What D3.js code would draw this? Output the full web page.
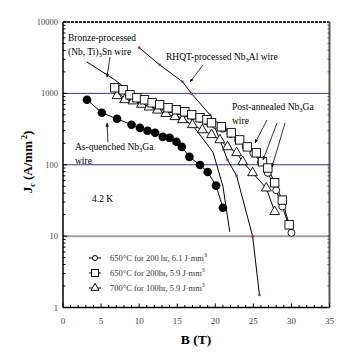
<!DOCTYPE html>
<html><head><meta charset="utf-8">
<script src="https://cdn.jsdelivr.net/npm/d3@7/dist/d3.min.js"></script>
<style>body{margin:0;background:#fff}svg{display:block}</style>
</head><body><svg id="c" width="356" height="353" font-family="'Liberation Serif', 'Times New Roman', Times, 'DejaVu Serif', serif" style="font-family:'Liberation Serif','Times New Roman',Times,'DejaVu Serif',serif"></svg>
<script>
// ---- data ----
const xTicks = [0,5,10,15,20,25,30,35];
const yTicks = [1,10,100,1000,10000];
const bronzeB = [3.1, 6.8, 8.8, 11, 14, 17, 19.7, 21, 21.9];
const bronzeJ = [2770, 1550, 1050, 800, 560, 360, 150, 50, 11.5];
const rhqtB = [10.0, 12.7, 15.7, 16.9, 19.3, 20.6, 21.6, 22.8, 24.9, 25.8];
const rhqtJ = [4370, 2510, 1455, 986, 501, 223, 117, 70, 10, 1.5];
const quenchB = [3.15, 5.1, 7.1, 9.0, 10.1, 11.1, 12.1, 13.1, 14.0, 14.9, 15.6, 16.6, 18.0, 19.0, 20.1, 21.0];
const quenchJ = [813, 535, 440, 363, 329, 299, 280, 246, 238, 210, 178, 129, 99, 79, 51, 25];
const sqB = [6.8, 7.9, 8.8, 9.7, 10.7, 11.7, 12.7, 13.8, 14.9, 16.0, 16.9, 18.0, 18.9, 19.5, 20.8, 22.1, 23.2, 24.2, 25.4, 26.2, 26.9, 27.8, 28.8, 29.7];
const sqJ = [1198, 1122, 955, 867, 813, 738, 692, 628, 589, 552, 501, 455, 427, 387, 340, 280, 223, 178, 147, 110, 90, 56, 32, 14.4];
const ciB = [7.0, 8.0, 9.0, 10.0, 11.0, 12.0, 13.0, 14.0, 15.0, 16.0, 17.0, 18.0, 19.0, 20.0, 21.0, 22.0, 23.0, 24.0, 25.0, 26.0, 26.9, 28.0, 28.8, 30.0];
const ciJ = [1150, 1000, 900, 830, 760, 700, 650, 600, 560, 520, 480, 440, 400, 360, 320, 270, 220, 180, 145, 110, 77, 44, 26, 11.1];
const trB = [7.1, 8.1, 9.2, 10.3, 11.3, 12.4, 13.5, 14.7, 15.7, 17.0, 18.3, 19.5, 20.6, 21.6, 22.8, 23.6, 24.9, 26.7, 27.8];
const trJ = [925, 813, 780, 700, 640, 580, 520, 470, 426, 363, 308, 263, 223, 178, 147, 110, 77, 47, 22];
const legendLabels = ["650\u00B0C for 200 hr, 6.1 J\u00B7mm", "650\u00B0C for 200hr, 5.9 J\u00B7mm", "700\u00B0C for 100hr, 5.9 J\u00B7mm"];

// ---- layout ----
const svg = d3.select("#c");
const L = 63, R = 329.5, T = 22, B = 307.5;
const x = d3.scaleLinear().domain([0,35]).range([L,R]);
const y = d3.scaleLog().domain([1,10000]).range([B,T]);

// grid lines
const grid = [{v:1000,c:"#3a3a8c",w:1},{v:100,c:"#3a3a8c",w:1},{v:10,c:"#a0a0a0",w:2}];
svg.selectAll("line.grid").data(grid).enter().append("line")
  .attr("x1",L).attr("x2",R).attr("y1",d=>y(d.v)).attr("y2",d=>y(d.v))
  .attr("stroke",d=>d.c).attr("stroke-width",d=>d.w);

// axes
const minorX = d3.range(0,36,1);
const g = svg.append("g");
g.append("line").attr("x1",L).attr("x2",L).attr("y1",T).attr("y2",B).attr("stroke","#000").attr("stroke-width",1.5);
g.append("line").attr("x1",L).attr("x2",R).attr("y1",B).attr("y2",B).attr("stroke","#000").attr("stroke-width",1.5);
g.append("line").attr("x1",L).attr("x2",R).attr("y1",T).attr("y2",T).attr("stroke","#333").attr("stroke-width",2).attr("stroke-dasharray","3,1");
g.append("line").attr("x1",R).attr("x2",R).attr("y1",T).attr("y2",B).attr("stroke","#555").attr("stroke-width",2);
g.selectAll("line.xt").data(minorX).enter().append("line")
  .attr("x1",d=>x(d)).attr("x2",d=>x(d)).attr("y1",B).attr("y2",d=>B-(d%5===0?4:2.5)).attr("stroke","#000");
const minorY = [];
for (let p=0;p<4;p++) for (let k=1;k<10;k++) minorY.push(k*Math.pow(10,p));
minorY.push(10000);
g.selectAll("line.yt").data(minorY).enter().append("line")
  .attr("x1",L).attr("x2",d=>L+(Math.abs(Math.log10(d)%1)<1e-9?4:2.5)).attr("y1",d=>y(d)).attr("y2",d=>y(d)).attr("stroke","#000");
g.selectAll("line.yr").data(minorY).enter().append("line")
  .attr("x1",R).attr("x2",R-2).attr("y1",d=>y(d)).attr("y2",d=>y(d)).attr("stroke","#555");

svg.selectAll("text.xl").data(xTicks).enter().append("text")
  .attr("x",d=>x(d)).attr("y",324).attr("text-anchor","middle").attr("font-size",9).attr("fill","#444").text(d=>d);
svg.selectAll("text.yl").data(yTicks).enter().append("text")
  .attr("x",58).attr("y",d=>y(d)+3).attr("text-anchor","end").attr("font-size",8.5).attr("fill","#444").text(d=>d);

// titles
svg.append("text").attr("x",196).attr("y",344).attr("text-anchor","middle").attr("font-size",13.5).attr("font-weight","bold").text("B (T)");
const yt = svg.append("text").attr("transform","translate(32,162) rotate(-90)").attr("text-anchor","middle").attr("font-size",13).attr("font-weight","bold");
yt.append("tspan").text("J");
yt.append("tspan").attr("font-size",8).attr("dy",3).text("c");
yt.append("tspan").attr("dy",-3).text(" (A/mm");
yt.append("tspan").attr("font-size",8).attr("dy",-5).text(" 2");
yt.append("tspan").attr("dy",5).text(")");

// series
const line = d3.line().x(d=>x(d[0])).y(d=>y(d[1]));
function zip(a,b){return a.map((v,i)=>[v,b[i]]);}
const bronze = zip(bronzeB,bronzeJ), rhqt = zip(rhqtB,rhqtJ), quench = zip(quenchB,quenchJ);
const sq = zip(sqB,sqJ), ci = zip(ciB,ciJ), tr = zip(trB,trJ);
[bronze, rhqt, quench, ci, sq, tr].forEach(s=>{
  svg.append("path").datum(s).attr("d",line).attr("fill","none").attr("stroke","#000").attr("stroke-width",1);
});
svg.selectAll("circle.rh").data(rhqt).enter().append("circle")
  .attr("cx",d=>x(d[0])).attr("cy",d=>y(d[1])).attr("r",1.3).attr("fill","#a020a0");
svg.selectAll("circle.q").data(quench).enter().append("circle")
  .attr("cx",d=>x(d[0])).attr("cy",d=>y(d[1])).attr("r",4.3).attr("fill","#000");
svg.selectAll("circle.ci").data(ci).enter().append("circle")
  .attr("cx",d=>x(d[0])).attr("cy",d=>y(d[1])).attr("r",3.5).attr("fill","#fff").attr("stroke","#000").attr("stroke-width",0.9);
const tri = d3.symbol().type(d3.symbolTriangle).size(42);
svg.selectAll("path.tr").data(tr).enter().append("path")
  .attr("d",tri).attr("transform",d=>`translate(${x(d[0])},${y(d[1])})`).attr("fill","#fff").attr("stroke","#000").attr("stroke-width",0.9);
svg.selectAll("rect.sq").data(sq).enter().append("rect")
  .attr("x",d=>x(d[0])-4.2).attr("y",d=>y(d[1])-4.2).attr("width",8.4).attr("height",8.4).attr("fill","#fff").attr("stroke","#000").attr("stroke-width",0.9);

// annotations
const fs = 9.5;
let t = svg.append("text").attr("x",68).attr("y",41).attr("font-size",fs).text("Bronze-processed");
t = svg.append("text").attr("x",68).attr("y",55).attr("font-size",fs);
t.append("tspan").text("(Nb, Ti)"); t.append("tspan").attr("font-size",6.5).attr("dy",2).text("3"); t.append("tspan").attr("dy",-2).text("Sn wire");
t = svg.append("text").attr("x",166).attr("y",60).attr("font-size",fs);
t.append("tspan").text("RHQT-processed Nb"); t.append("tspan").attr("font-size",6.5).attr("dy",2).text("3"); t.append("tspan").attr("dy",-2).text("Al wire");
t = svg.append("text").attr("x",232).attr("y",110).attr("font-size",fs);
t.append("tspan").text("Post-annealed Nb"); t.append("tspan").attr("font-size",6.5).attr("dy",2).text("3"); t.append("tspan").attr("dy",-2).text("Ga");
svg.append("text").attr("x",232).attr("y",124).attr("font-size",fs).text("wire");
t = svg.append("text").attr("x",75).attr("y",150).attr("font-size",fs);
t.append("tspan").text("As-quenched Nb"); t.append("tspan").attr("font-size",6.5).attr("dy",2).text("3"); t.append("tspan").attr("dy",-2).text("Ga");
svg.append("text").attr("x",75).attr("y",164).attr("font-size",fs).text("wire");
svg.append("text").attr("x",92).attr("y",202).attr("font-size",9.5).text("4.2  K");

// arrows
const defs = svg.append("defs");
defs.append("marker").attr("id","ah").attr("viewBox","0 0 10 10").attr("refX",9).attr("refY",5)
  .attr("markerWidth",5).attr("markerHeight",5).attr("orient","auto")
  .append("path").attr("d","M0,1 L10,5 L0,9 Z").attr("fill","#000");
const arrows = [[110,57,107,77],[203,65,190,82],[108,142,107,123],[267,120,255,143],[277,123,263,160],[285,123,272,167]];
svg.selectAll("line.ar").data(arrows).enter().append("line")
  .attr("x1",d=>d[0]).attr("y1",d=>d[1]).attr("x2",d=>d[2]).attr("y2",d=>d[3])
  .attr("stroke","#000").attr("stroke-width",0.8).attr("marker-end","url(#ah)");

// legend
const lg = svg.append("g");
const rows = [258,273,288];
lg.selectAll("line.lg").data(rows).enter().append("line")
  .attr("x1",89).attr("x2",101).attr("y1",d=>d).attr("y2",d=>d).attr("stroke","#000");
lg.append("circle").attr("cx",95).attr("cy",rows[0]).attr("r",2.5).attr("fill","#fff").attr("stroke","#000");
lg.append("rect").attr("x",91.5).attr("y",rows[1]-3.5).attr("width",7).attr("height",7).attr("fill","#fff").attr("stroke","#000");
lg.append("path").attr("d",d3.symbol().type(d3.symbolTriangle).size(28)).attr("transform",`translate(95,${rows[2]})`).attr("fill","#fff").attr("stroke","#000");
legendLabels.forEach((s,i)=>{
  const tt = lg.append("text").attr("x",110).attr("y",rows[i]+3).attr("font-size",8.5).attr("fill","#333");
  tt.append("tspan").text(s); tt.append("tspan").attr("font-size",6).attr("dy",-4).text("3");
});
</script></body></html>
